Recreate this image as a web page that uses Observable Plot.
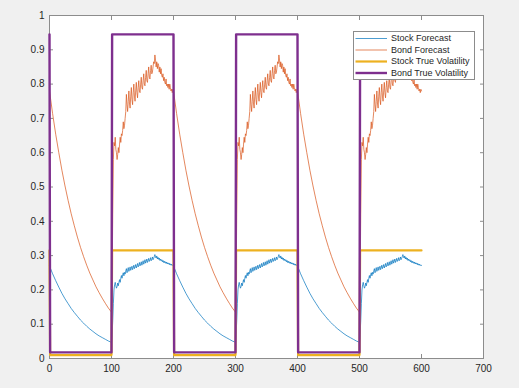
<!DOCTYPE html>
<html><head><meta charset="utf-8">
<script src="https://cdn.jsdelivr.net/npm/d3@7"></script>
<script src="https://cdn.jsdelivr.net/npm/@observablehq/plot@0.6"></script>
<style>html,body{margin:0;padding:0;background:#f0f0f0;overflow:hidden;}</style>
</head><body><div id="chart"></div>
<script>
// ---- data ----
const xTicks = [0, 100, 200, 300, 400, 500, 600, 700];
const xTickLabels = ["0", "100", "200", "300", "400", "500", "600", "700"];
const yTicks = [0, 0.1, 0.2, 0.3, 0.4, 0.5, 0.6, 0.7, 0.8, 0.9, 1];
const yTickLabels = ["0", "0.1", "0.2", "0.3", "0.4", "0.5", "0.6", "0.7", "0.8", "0.9", "1"];

// regime starts (low-volatility regimes; each followed by a high regime)
const cycleStarts = [0, 200, 400];

// forecast decay in the low regime (offset from regime start)
const decayT = [0, 5, 10, 15, 20, 25, 30, 35, 40, 45, 50, 55, 60, 65, 70, 75, 80, 85, 90, 95, 100];
const bondDecay = [0.780, 0.714, 0.654, 0.600, 0.549, 0.503, 0.461, 0.422, 0.387, 0.354, 0.324, 0.297, 0.272, 0.249, 0.229, 0.209, 0.192, 0.176, 0.161, 0.147, 0.135];
const stockDecay = [0.270, 0.247, 0.227, 0.208, 0.190, 0.174, 0.160, 0.146, 0.134, 0.123, 0.112, 0.103, 0.094, 0.086, 0.079, 0.072, 0.066, 0.061, 0.056, 0.051, 0.047];

// forecast in the high regime, offsets 101..200 from cycle start
const highT = [101,102,103,104,105,106,107,108,109,110,111,112,113,114,115,116,117,118,119,120,121,122,123,124,125,126,127,128,129,130,131,132,133,134,135,136,137,138,139,140,141,142,143,144,145,146,147,148,149,150,151,152,153,154,155,156,157,158,159,160,161,162,163,164,165,166,167,168,169,170,171,172,173,174,175,176,177,178,179,180,181,182,183,184,185,186,187,188,189,190,191,192,193,194,195,196,197,198,199,200];
const bondHigh = [0.22,0.42,0.58,0.63,0.62,0.645,0.61,0.60,0.58,0.595,0.615,0.60,0.625,0.645,0.63,0.655,0.65,0.665,0.69,0.67,0.68,0.70,0.72,0.77,0.74,0.72,0.75,0.78,0.745,0.73,0.765,0.79,0.755,0.74,0.775,0.80,0.765,0.75,0.78,0.805,0.775,0.76,0.79,0.81,0.78,0.775,0.80,0.82,0.79,0.785,0.81,0.83,0.80,0.795,0.82,0.84,0.81,0.805,0.83,0.85,0.82,0.815,0.84,0.855,0.83,0.835,0.85,0.865,0.86,0.885,0.87,0.85,0.865,0.845,0.86,0.855,0.835,0.85,0.83,0.845,0.825,0.82,0.83,0.81,0.82,0.805,0.80,0.815,0.795,0.80,0.79,0.80,0.785,0.80,0.79,0.78,0.785,0.775,0.785,0.78];
const stockHigh = [0.07,0.11,0.16,0.20,0.215,0.222,0.212,0.205,0.21,0.22,0.212,0.222,0.23,0.222,0.234,0.242,0.234,0.244,0.25,0.241,0.251,0.246,0.255,0.262,0.25,0.257,0.265,0.254,0.259,0.267,0.257,0.262,0.269,0.259,0.264,0.272,0.262,0.267,0.274,0.264,0.27,0.277,0.267,0.272,0.28,0.27,0.275,0.282,0.272,0.278,0.285,0.275,0.28,0.288,0.278,0.283,0.29,0.28,0.285,0.292,0.283,0.287,0.294,0.285,0.289,0.296,0.288,0.292,0.297,0.303,0.296,0.293,0.299,0.29,0.295,0.289,0.293,0.286,0.29,0.285,0.288,0.282,0.286,0.28,0.284,0.279,0.282,0.277,0.281,0.276,0.279,0.275,0.278,0.273,0.276,0.272,0.275,0.271,0.273,0.271];

// true volatilities (breakpoints)
const trueX = [0, 1, 100, 101, 200, 201, 300, 301, 400, 401, 500, 501, 600];
const bondTrue = [0.945, 0.018, 0.018, 0.945, 0.945, 0.018, 0.018, 0.945, 0.945, 0.018, 0.018, 0.945, 0.945];
const stockTrue = [0.315, 0.010, 0.010, 0.315, 0.315, 0.010, 0.010, 0.315, 0.315, 0.010, 0.010, 0.315, 0.315];

const seriesNames = ["Stock Forecast", "Bond Forecast", "Stock True Volatility", "Bond True Volatility"];
const seriesColors = ["#0072BD", "#D95319", "#EDB120", "#7E2F8E"];
const seriesWidths = [0.7, 0.7, 2.2, 2.4];

// ---- build tables ----
function buildForecast(decay, high) {
  const out = [];
  for (const c of cycleStarts) {
    decayT.forEach((t, i) => out.push({x: c + t, y: decay[i]}));
    highT.forEach((t, i) => out.push({x: c + t, y: high[i]}));
  }
  return out;
}
const stockForecast = buildForecast(stockDecay, stockHigh);
const bondForecast = buildForecast(bondDecay, bondHigh);
const stockTrueData = trueX.map((x, i) => ({x, y: stockTrue[i]}));
const bondTrueData = trueX.map((x, i) => ({x, y: bondTrue[i]}));

const axisGray = "#8c8c8c";
const fontStack = "'Liberation Sans', Arial, Helvetica, sans-serif";

const plot = Plot.plot({
  width: 519, height: 388,
  marginLeft: 49, marginRight: 36, marginTop: 15, marginBottom: 30,
  style: {background: "#f0f0f0", fontFamily: fontStack, fontSize: "10px", color: "#262626", overflow: "visible"},
  x: {domain: [0, 700]},
  y: {domain: [0, 1]},
  marks: [
    Plot.frame({fill: "white", stroke: axisGray}),
    Plot.axisX({ticks: xTicks, tickSize: -4, tickFormat: () => "", label: null, stroke: axisGray}),
    Plot.axisX({anchor: "top", ticks: xTicks, tickSize: -4, tickFormat: () => "", label: null, stroke: axisGray}),
    Plot.axisY({ticks: yTicks, tickSize: -4, tickFormat: () => "", label: null, stroke: axisGray}),
    Plot.axisY({anchor: "right", ticks: yTicks, tickSize: -4, tickFormat: () => "", label: null, stroke: axisGray}),
    Plot.axisX({ticks: xTicks, tickSize: 0, tickPadding: 6, tickFormat: (d, i) => xTickLabels[i], label: null}),
    Plot.axisY({ticks: yTicks, tickSize: 0, tickPadding: 5, tickFormat: (d, i) => yTickLabels[i], label: null}),
    Plot.line(stockForecast, {x: "x", y: "y", stroke: seriesColors[0], strokeWidth: seriesWidths[0]}),
    Plot.line(bondForecast, {x: "x", y: "y", stroke: seriesColors[1], strokeWidth: seriesWidths[1]}),
    Plot.line(stockTrueData, {x: "x", y: "y", stroke: seriesColors[2], strokeWidth: seriesWidths[2]}),
    Plot.line(bondTrueData, {x: "x", y: "y", stroke: seriesColors[3], strokeWidth: seriesWidths[3]})
  ]
});

// ---- legend (MATLAB style, inside the axes) ----
const svg = d3.select(plot);
const lg = svg.append("g").attr("font-family", fontStack).attr("font-size", "9px").attr("text-anchor", "start");
lg.append("rect").attr("x", 353.5).attr("y", 31.5).attr("width", 121).attr("height", 48)
  .attr("fill", "white").attr("stroke", axisGray).attr("stroke-width", 1);
seriesNames.forEach((name, i) => {
  const cy = 38.5 + i * 11.5;
  lg.append("line").attr("x1", 355.5).attr("x2", 387).attr("y1", cy).attr("y2", cy)
    .attr("stroke", seriesColors[i]).attr("stroke-width", seriesWidths[i]);
  lg.append("text").attr("x", 391).attr("y", cy).attr("dy", "0.33em")
    .attr("text-anchor", "start").attr("fill", "#262626").text(name);
});

document.getElementById("chart").append(plot);
</script>
</body></html>
